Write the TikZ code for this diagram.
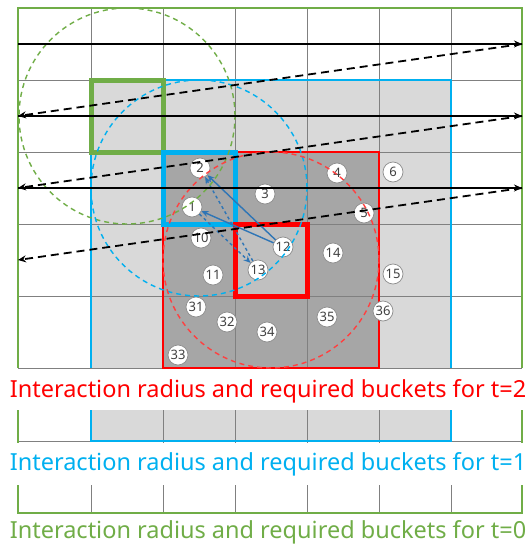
\documentclass[tikz,border=0pt]{standalone}
\usepackage{fontspec}
\usepackage{xcolor}
\setmainfont{Noto Sans}
\usetikzlibrary{arrows.meta}

\definecolor{redline}{RGB}{255,0,0}
\definecolor{blueline}{RGB}{0,176,240}
\definecolor{greenline}{RGB}{112,173,71}
\definecolor{lightfill}{RGB}{217,217,217}
\definecolor{darkfill}{RGB}{166,166,166}
\definecolor{midfill}{RGB}{192,192,192}
\definecolor{pairblue}{RGB}{46,117,182}

\begin{document}
\begin{tikzpicture}[x=1pt, y=-1pt,
    gridline/.style={draw=black!50, line width=0.8pt},
    bucket/.style={draw, line width=5pt, minimum size=72pt, inner sep=0pt},
    particle/.style={circle, draw=black!45, fill=white, line width=0.7pt, inner sep=0pt,
        minimum size=20pt, text=black!75, font=\fontsize{13}{13}\selectfont},
    scanline/.style={black, line width=1.3pt, -{Stealth[length=8pt, width=7pt]}},
    backline/.style={scanline, line width=1.8pt, dash pattern=on 8pt off 5pt},
    cutoff/.style={line width=1.4pt, dash pattern=on 5pt off 4pt},
    pair/.style={pairblue, line width=1.4pt, -{Stealth[length=7pt, width=6pt]}},
    caption/.style={anchor=base, font=\fontsize{23.5}{23.5}\selectfont}]

\useasboundingbox (0,0) rectangle (530,544);

% shaded buckets
\fill[lightfill] (91,80) rectangle (451,368);
\fill[lightfill] (91,410) rectangle (451,441);
\fill[darkfill] (163,152) rectangle (379,368);
\fill[midfill] (235,224) rectangle (307,296);

% bucket grid
\foreach \y in {80,152,...,368}
    \draw[gridline] (18,\y) -- (522,\y);
\foreach \x in {91,163,...,451}
    \draw[gridline] (\x,8) -- (\x,368);
\foreach \x in {163,235,...,379}
    \draw[gridline] (\x,410) -- (\x,443);
\draw[gridline] (18,441) -- (522,441);
\foreach \x in {91,163,...,451}
    \draw[gridline] (\x,485) -- (\x,513);

% required buckets for each t
\draw[greenline, line width=2pt] (18,368) -- (18,8) -- (522,8) -- (522,368);
\draw[greenline, line width=2pt] (18,410) -- (18,443) (522,410) -- (522,443);
\draw[greenline, line width=2pt] (18,485) -- (18,513) -- (522,513) -- (522,485);
\draw[blueline, line width=2pt] (91,368) -- (91,80) -- (451,80) -- (451,368);
\draw[blueline, line width=2pt] (91,410) -- (91,441) -- (451,441) -- (451,410);
\draw[redline, line width=2.5pt] (163,152) rectangle (379,368);

\node[bucket, greenline] (cell0) at (127,116) {};
\node[bucket, blueline] (cell1) at (199,188) {};
\node[bucket, redline] (cell2) at (271,260) {};

% particles
\foreach \n/\x/\y in {1/192/207, 2/200/168, 3/265/194, 4/337/173, 5/364/213,
    6/393/172, 10/201/238, 11/213/275, 12/283/247, 13/258/270, 14/333/253,
    15/393/274, 31/196/307, 32/227/322, 33/178/355, 34/267/332, 35/327/317,
    36/383/311}
    \node[particle] (p\n) at (\x,\y) {\n};

\draw[pair] (p12) -- (p2);
\draw[pair] (p12) -- (p1);
\draw[pair, dashed] (p13) -- (p2);
\draw[pair, dashed] (p1) -- (p13);

% interaction radius
\draw[cutoff, greenline] (cell0.center) circle[radius=108pt];
\draw[cutoff, blueline] (cell1.center) circle[radius=108pt];
\draw[cutoff, redline!75] (cell2.center) circle[radius=108pt];

% scan order
\foreach \r/\y in {1/44, 2/116, 3/188, 4/260} {
    \coordinate (L\r) at (18,\y);
    \coordinate (R\r) at (522,\y);
}
\draw[scanline] (L1) -- (R1);
\draw[scanline] (L2) -- (R2);
\draw[scanline] (L3) -- (R3);
\draw[backline] (R1) -- (L2);
\draw[backline] (R2) -- (L3);
\draw[backline] (R3) -- (L4);

\node[caption, text=redline] (t2) at (268,397) {Interaction radius and required buckets for t=2};
\node[caption, text=blueline] (t1) at (268,470) {Interaction radius and required buckets for t=1};
\node[caption, text=greenline] (t0) at (268,538) {Interaction radius and required buckets for t=0};
\end{tikzpicture}
\end{document}
